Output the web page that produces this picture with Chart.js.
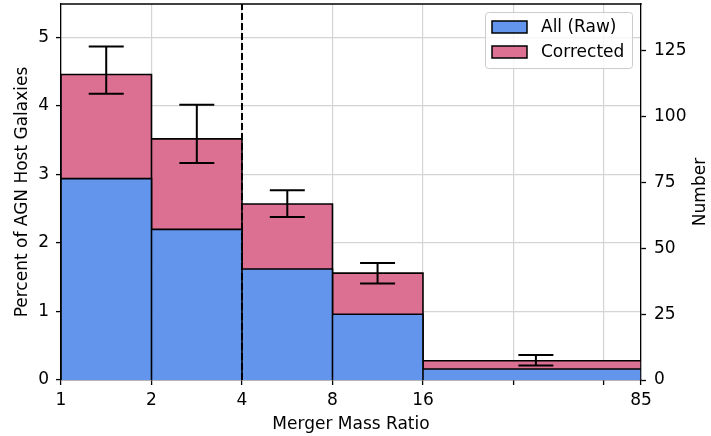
<!DOCTYPE html>
<html>
<head>
<meta charset="utf-8">
<script src="https://cdn.jsdelivr.net/npm/chart.js@4.4.1/dist/chart.umd.min.js"></script>
<style>
  html, body { margin: 0; padding: 0; background: #ffffff; }
  canvas { display: block; }
</style>
</head>
<body>
<canvas id="c" width="711" height="436"></canvas>
<script>
// ---- data ----
const binEdges      = [1, 2, 4, 8, 16, 85];
const rawPct        = [2.94, 2.20, 1.62, 0.96, 0.16];
const correctedPct  = [4.46, 3.52, 2.57, 1.56, 0.28];
const errX          = [1.414, 2.83, 5.66, 11.3, 38];
const errLow        = [4.18, 3.17, 2.38, 1.41, 0.21];
const errHigh       = [4.87, 4.02, 2.77, 1.71, 0.365];
const xTicks        = [1, 2, 4, 8, 16, 32, 64, 85];
const xTickLabels   = ['1', '2', '4', '8', '16', '', '', '85'];
const yTicks        = [0, 1, 2, 3, 4, 5];
const numTicks      = [0, 25, 50, 75, 100, 125];
const cutRatio      = 4;
const yMax          = 5.49;
const numMax        = 142.7;
const seriesLabels  = ['All (Raw)', 'Corrected'];

// ---- build library-friendly structures ----
function histPath(edges, vals) {
  const pts = [];
  for (let i = 0; i < vals.length; i++) {
    pts.push({x: edges[i], y: 0});
    pts.push({x: edges[i], y: vals[i]});
    pts.push({x: edges[i + 1], y: vals[i]});
    pts.push({x: edges[i + 1], y: 0});
  }
  return pts;
}
const errPts = [];
for (let i = 0; i < errX.length; i++) {
  errPts.push({x: errX[i], y: errLow[i]});
  errPts.push({x: errX[i], y: errHigh[i]});
  errPts.push({x: errX[i], y: null});
}

const FONT = 'DejaVu Sans';
Chart.defaults.font.family = FONT;
Chart.defaults.font.size = 17;
Chart.defaults.color = '#000000';

const BLUE = '#6495ED';
const PINK = '#DB7093';
const GRID = '#d4d4d4';

function noPad(s) {
  s.paddingTop = 0; s.paddingBottom = 0; s.paddingLeft = 0; s.paddingRight = 0;
}

const frameAndExtras = {
  id: 'frameAndExtras',
  afterDraw(chart) {
    const {ctx, chartArea: a} = chart;
    ctx.save();
    // top frame line
    ctx.strokeStyle = '#000';
    ctx.lineWidth = 1.3;
    ctx.beginPath();
    ctx.moveTo(a.left - 0.6, a.top);
    ctx.lineTo(a.right + 0.6, a.top);
    ctx.stroke();

    // right axis title (reads bottom-to-top)
    const t = chart.options.scales.y2.title;
    ctx.save();
    ctx.translate(701, (a.top + a.bottom) / 2);
    ctx.rotate(-Math.PI / 2);
    ctx.font = '17px "' + FONT + '"';
    ctx.fillStyle = '#000';
    ctx.textAlign = 'center';
    ctx.textBaseline = 'middle';
    ctx.fillText(t.text, 0, 0);
    ctx.restore();

    // legend
    const items = chart.data.datasets.filter(d => d.showInLegend)
      .sort((p, q) => p.legendIndex - q.legendIndex);
    const fx = a.right - 155.5, fy = a.top + 8.5, fw = 147, fh = 56;
    ctx.beginPath();
    ctx.roundRect(fx, fy, fw, fh, 3);
    ctx.fillStyle = 'rgba(255,255,255,0.8)';
    ctx.fill();
    ctx.strokeStyle = '#cccccc';
    ctx.lineWidth = 1;
    ctx.stroke();
    ctx.font = '17px "' + FONT + '"';
    ctx.textAlign = 'left';
    ctx.textBaseline = 'middle';
    items.forEach((d, i) => {
      const py = fy + 8.5 + i * 25;
      ctx.fillStyle = d.backgroundColor;
      ctx.fillRect(fx + 6.5, py, 35, 12);
      ctx.strokeStyle = '#000';
      ctx.lineWidth = 1.5;
      ctx.strokeRect(fx + 6.5, py, 35, 12);
      ctx.fillStyle = '#000';
      ctx.fillText(d.label, fx + 55.5, py + 6.5);
    });
    ctx.restore();
  }
};

new Chart(document.getElementById('c'), {
  type: 'line',
  data: {
    datasets: [
      {
        label: 'errors',
        data: errPts,
        order: 0,
        borderColor: '#000',
        borderWidth: 2,
        pointStyle: 'line',
        pointRadius: 17.5,
        pointBorderWidth: 2,
        pointBorderColor: '#000',
        spanGaps: false,
        fill: false,
        tension: 0
      },
      {
        label: 'cut',
        data: [{x: cutRatio, y: 0}, {x: cutRatio, y: yMax}],
        order: 1,
        borderColor: '#000',
        borderWidth: 2,
        borderDash: [7, 3],
        pointRadius: 0,
        fill: false
      },
      {
        label: seriesLabels[0],
        showInLegend: true, legendIndex: 0,
        data: histPath(binEdges, rawPct),
        order: 2,
        backgroundColor: BLUE,
        borderColor: '#000',
        borderWidth: 1.6,
        pointRadius: 0,
        fill: 'origin',
        tension: 0
      },
      {
        label: seriesLabels[1],
        showInLegend: true, legendIndex: 1,
        data: histPath(binEdges, correctedPct),
        order: 3,
        backgroundColor: PINK,
        borderColor: '#000',
        borderWidth: 1.6,
        pointRadius: 0,
        fill: 'origin',
        tension: 0
      }
    ]
  },
  options: {
    responsive: false,
    animation: false,
    devicePixelRatio: 1,
    layout: { autoPadding: false, padding: { top: 4, left: 0, right: 0, bottom: 0 } },
    plugins: { legend: { display: false }, tooltip: { enabled: false } },
    scales: {
      x: {
        type: 'logarithmic',
        position: 'bottom',
        min: binEdges[0],
        max: binEdges[binEdges.length - 1],
        afterBuildTicks: s => { s.ticks = xTicks.map(v => ({value: v})); },
        afterFit: s => { s.height = 56; noPad(s); },
        ticks: {
          autoSkip: false, maxRotation: 0, padding: 5,
          font: { size: 17 }, color: '#000',
          callback: (v) => { const i = xTicks.indexOf(v); return i >= 0 ? xTickLabels[i] : ''; }
        },
        grid: { color: GRID, lineWidth: 1.2, tickLength: 5, tickColor: '#000', tickWidth: 1.3 },
        border: { color: '#000', width: 1.3 },
        title: { display: true, text: 'Merger Mass Ratio', font: { size: 17, lineHeight: 1.2 }, color: '#000', padding: { top: 0, bottom: 1 } }
      },
      y: {
        type: 'linear',
        position: 'left',
        min: 0,
        max: yMax,
        afterBuildTicks: s => { s.ticks = yTicks.map(v => ({value: v})); },
        afterFit: s => { s.width = 61; noPad(s); },
        ticks: { padding: 7, font: { size: 17 }, color: '#000', callback: v => String(v) },
        grid: { color: GRID, lineWidth: 1.2, tickLength: 5, tickColor: '#000', tickWidth: 1.3 },
        border: { color: '#000', width: 1.3 },
        title: { display: true, text: 'Percent of AGN Host Galaxies', font: { size: 17, lineHeight: 1.2 }, color: '#000', padding: { top: 12.5, bottom: 0 } }
      },
      y2: {
        type: 'linear',
        position: 'right',
        min: 0,
        max: numMax,
        afterBuildTicks: s => { s.ticks = numTicks.map(v => ({value: v})); },
        afterFit: s => { s.width = 70; noPad(s); },
        ticks: { padding: 8, font: { size: 17 }, color: '#000', callback: v => String(v) },
        grid: { drawOnChartArea: false, tickLength: 5, tickColor: '#000', tickWidth: 1.3 },
        border: { color: '#000', width: 1.3 },
        title: { display: false, text: 'Number' }
      }
    }
  },
  plugins: [frameAndExtras]
});
</script>
</body>
</html>
